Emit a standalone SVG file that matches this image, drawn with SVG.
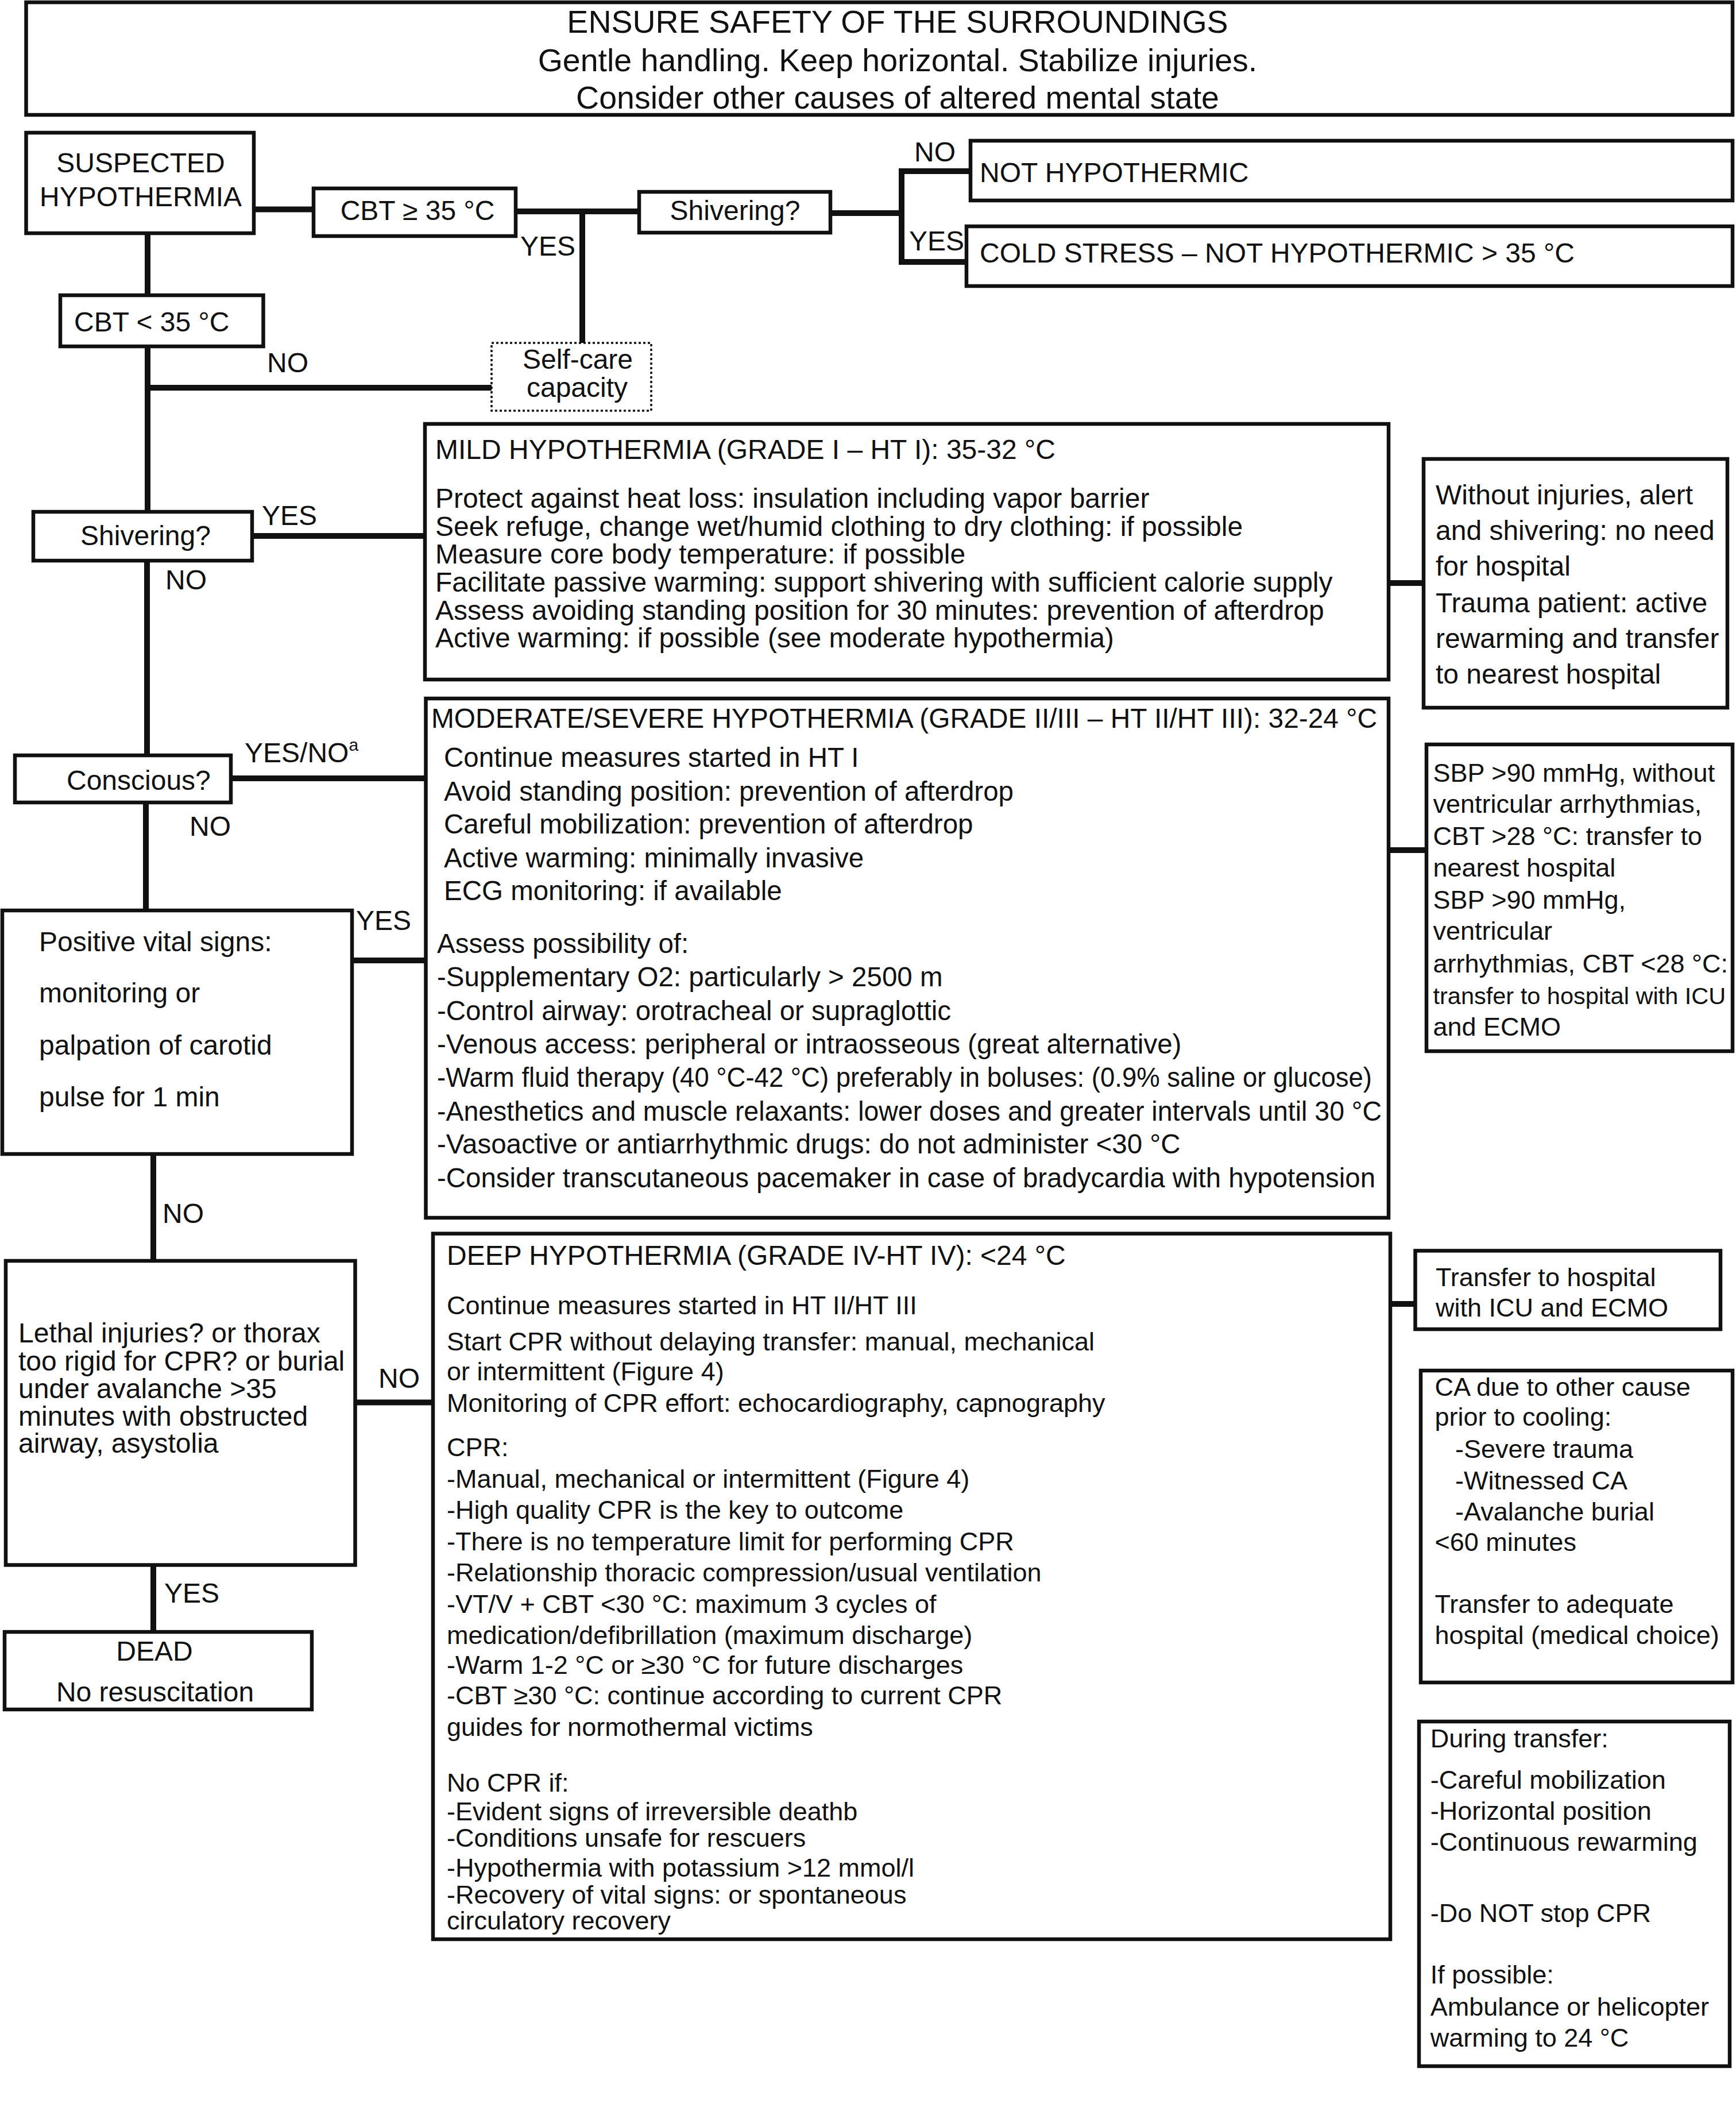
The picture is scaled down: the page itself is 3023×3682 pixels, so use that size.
<svg xmlns="http://www.w3.org/2000/svg" width="3023" height="3682" viewBox="0 0 3023 3682">
<style>
.box{fill:#fff;stroke:#111;stroke-width:6.5}
.dotted{fill:#fff;stroke:#111;stroke-width:3.5;stroke-dasharray:4 4}
.c{stroke:#111;stroke-width:10;fill:none;stroke-linecap:square}
text{font-family:"Liberation Sans",Arial,Helvetica,sans-serif;fill:#111}
.h{font-size:55.5px;text-anchor:middle}
.f48{font-size:48px}
.f475{font-size:47.5px}
.f45{font-size:45px}
.m{text-anchor:middle}
</style>
<rect width="3023" height="3682" fill="#fff"/>
<g id="connectors">
<line class="c" x1="442" y1="364.5" x2="546" y2="364.5"/>
<line class="c" x1="898" y1="368" x2="1113" y2="368"/>
<line class="c" x1="1014" y1="368" x2="1014" y2="597"/>
<line class="c" x1="1446" y1="371" x2="1570" y2="371"/>
<line class="c" x1="1570" y1="298" x2="1570" y2="456"/>
<line class="c" x1="1570" y1="298" x2="1690" y2="298"/>
<line class="c" x1="1570" y1="456" x2="1683" y2="456"/>
<line class="c" x1="257" y1="406" x2="257" y2="514"/>
<line class="c" x1="257" y1="603" x2="257" y2="891"/>
<line class="c" x1="257" y1="675" x2="856" y2="675"/>
<line class="c" x1="439" y1="933" x2="740" y2="933"/>
<line class="c" x1="256" y1="976" x2="256" y2="1315"/>
<line class="c" x1="402" y1="1355" x2="741" y2="1355"/>
<line class="c" x1="254" y1="1397" x2="254" y2="1585"/>
<line class="c" x1="613" y1="1672" x2="741" y2="1672"/>
<line class="c" x1="267" y1="2009" x2="267" y2="2195"/>
<line class="c" x1="618" y1="2441.5" x2="754" y2="2441.5"/>
<line class="c" x1="267" y1="2724" x2="267" y2="2841"/>
<line class="c" x1="2418" y1="1015" x2="2479" y2="1015"/>
<line class="c" x1="2418" y1="1480" x2="2484" y2="1480"/>
<line class="c" x1="2421" y1="2270" x2="2464" y2="2270"/>
<text class="f48" x="906" y="445">YES</text>
<text class="f48" x="1592" y="281">NO</text>
<text class="f48" x="1583" y="436">YES</text>
<text class="f48" x="465" y="648">NO</text>
<text class="f48" x="456" y="914">YES</text>
<text class="f48" x="288" y="1026">NO</text>
<text class="f48" x="426" y="1327">YES/NO<tspan font-size="30" dy="-20">a</tspan></text>
<text class="f48" x="330" y="1455">NO</text>
<text class="f48" x="620" y="1619">YES</text>
<text class="f48" x="283" y="2129">NO</text>
<text class="f48" x="659" y="2416">NO</text>
<text class="f48" x="286" y="2790">YES</text>
</g>
<g id="header">
<rect class="box" x="45.5" y="4" width="2971.5" height="196"/>
<text class="h" x="1563" y="57">ENSURE SAFETY OF THE SURROUNDINGS</text>
<text class="h" x="1563" y="124">Gentle handling. Keep horizontal. Stabilize injuries.</text>
<text class="h" x="1563" y="189">Consider other causes of altered mental state</text>
</g>
<g id="suspected">
<rect class="box" x="45.5" y="231" width="396.5" height="175"/>
<text class="f48 m" x="245" y="300">SUSPECTED</text>
<text class="f48 m" x="245" y="359">HYPOTHERMIA</text>
</g>
<g id="cbt-ge35">
<rect class="box" x="546" y="328" width="352" height="83"/>
<text class="f48 m" x="727" y="383">CBT ≥ 35 °C</text>
</g>
<g id="shivering-top">
<rect class="box" x="1113" y="334" width="333" height="71"/>
<text class="f48 m" x="1280" y="383">Shivering?</text>
</g>
<g id="not-hypothermic">
<rect class="box" x="1690" y="245" width="1327" height="104"/>
<text class="f48" x="1706" y="317">NOT HYPOTHERMIC</text>
</g>
<g id="cold-stress">
<rect class="box" x="1683" y="394" width="1334" height="104"/>
<text class="f48" x="1706" y="457">COLD STRESS – NOT HYPOTHERMIC &gt; 35 °C</text>
</g>
<g id="cbt-lt35">
<rect class="box" x="105" y="514" width="353.5" height="89"/>
<text class="f48" x="129" y="577">CBT &lt; 35 °C</text>
</g>
<g id="self-care">
<rect class="dotted" x="856" y="597" width="278" height="118"/>
<text class="f48 m" x="1006" y="642">Self-care</text>
<text class="f48 m" x="1005" y="691">capacity</text>
</g>
<g id="shivering-left">
<rect class="box" x="58" y="891" width="381" height="85"/>
<text class="f48 m" x="253.5" y="949">Shivering?</text>
</g>
<g id="mild">
<rect class="box" x="740" y="738" width="1678" height="445"/>
<text class="f48" x="758" y="799">MILD HYPOTHERMIA (GRADE I – HT I): 35-32 °C</text>
<text class="f48" x="758" y="884">Protect against heat loss: insulation including vapor barrier</text>
<text class="f48" x="758" y="933">Seek refuge, change wet/humid clothing to dry clothing: if possible</text>
<text class="f48" x="758" y="981">Measure core body temperature: if possible</text>
<text class="f48" x="758" y="1030">Facilitate passive warming: support shivering with sufficient calorie supply</text>
<text class="f48" x="758" y="1079">Assess avoiding standing position for 30 minutes: prevention of afterdrop</text>
<text class="f48" x="758" y="1127">Active warming: if possible (see moderate hypothermia)</text>
</g>
<g id="mild-side">
<rect class="box" x="2479" y="799" width="529" height="433"/>
<text class="f48" x="2500" y="878">Without injuries, alert</text>
<text class="f48" x="2500" y="940">and shivering: no need</text>
<text class="f48" x="2500" y="1002">for hospital</text>
<text class="f48" x="2500" y="1065.5">Trauma patient: active</text>
<text class="f48" x="2500" y="1128">rewarming and transfer</text>
<text class="f48" x="2500" y="1190">to nearest hospital</text>
</g>
<g id="moderate">
<rect class="box" x="741.5" y="1216" width="1676.5" height="904"/>
<text class="f475" x="751" y="1267" textLength="1647" lengthAdjust="spacingAndGlyphs">MODERATE/SEVERE HYPOTHERMIA (GRADE II/III – HT II/HT III): 32-24 °C</text>
<text class="f475" x="773" y="1335">Continue measures started in HT I</text>
<text class="f475" x="773" y="1393.5">Avoid standing position: prevention of afterdrop</text>
<text class="f475" x="773" y="1451">Careful mobilization: prevention of afterdrop</text>
<text class="f475" x="773" y="1510">Active warming: minimally invasive</text>
<text class="f475" x="773" y="1567">ECG monitoring: if available</text>
<text class="f475" x="761" y="1659">Assess possibility of:</text>
<text class="f475" x="761" y="1717">-Supplementary O2: particularly &gt; 2500 m</text>
<text class="f475" x="761" y="1776">-Control airway: orotracheal or supraglottic</text>
<text class="f475" x="761" y="1834">-Venous access: peripheral or intraosseous (great alternative)</text>
<text class="f475" x="761" y="1892" textLength="1628" lengthAdjust="spacingAndGlyphs">-Warm fluid therapy (40 °C-42 °C) preferably in boluses: (0.9% saline or glucose)</text>
<text class="f475" x="761" y="1951" textLength="1645" lengthAdjust="spacingAndGlyphs">-Anesthetics and muscle relaxants: lower doses and greater intervals until 30 °C</text>
<text class="f475" x="761" y="2008">-Vasoactive or antiarrhythmic drugs: do not administer &lt;30 °C</text>
<text class="f475" x="761" y="2067" textLength="1634" lengthAdjust="spacingAndGlyphs">-Consider transcutaneous pacemaker in case of bradycardia with hypotension</text>
</g>
<g id="conscious">
<rect class="box" x="26" y="1315" width="376" height="82"/>
<text class="f48" x="116" y="1375">Conscious?</text>
</g>
<g id="vital-signs">
<rect class="box" x="4" y="1585" width="609" height="424"/>
<text class="f48" x="68" y="1656">Positive vital signs:</text>
<text class="f48" x="68" y="1745">monitoring or</text>
<text class="f48" x="68" y="1836">palpation of carotid</text>
<text class="f48" x="68" y="1926">pulse for 1 min</text>
</g>
<g id="moderate-side">
<rect class="box" x="2484" y="1296" width="533" height="534"/>
<text class="f45" x="2495.5" y="1361">SBP &gt;90 mmHg, without</text>
<text class="f45" x="2495.5" y="1415">ventricular arrhythmias,</text>
<text class="f45" x="2495.5" y="1471">CBT &gt;28 °C: transfer to</text>
<text class="f45" x="2495.5" y="1526">nearest hospital</text>
<text class="f45" x="2495.5" y="1582">SBP &gt;90 mmHg,</text>
<text class="f45" x="2495.5" y="1636">ventricular</text>
<text class="f45" x="2495.5" y="1692.5">arrhythmias, CBT &lt;28 °C:</text>
<text x="2495.5" y="1748" font-size="41.5">transfer to hospital with ICU</text>
<text class="f45" x="2495.5" y="1803">and ECMO</text>
</g>
<g id="lethal">
<rect class="box" x="10" y="2195" width="608.5" height="529.5"/>
<text class="f48" x="32" y="2337">Lethal injuries? or thorax</text>
<text class="f48" x="32" y="2386">too rigid for CPR? or burial</text>
<text class="f48" x="32" y="2433.5">under avalanche &gt;35</text>
<text class="f48" x="32" y="2482">minutes with obstructed</text>
<text class="f48" x="32" y="2529">airway, asystolia</text>
</g>
<g id="dead">
<rect class="box" x="8" y="2841" width="535" height="135"/>
<text class="f48 m" x="269" y="2891">DEAD</text>
<text class="f48 m" x="270" y="2962">No resuscitation</text>
</g>
<g id="deep">
<rect class="box" x="754" y="2147.6" width="1667" height="1228.4"/>
<text class="f48" x="778" y="2202">DEEP HYPOTHERMIA (GRADE IV-HT IV): &lt;24 °C</text>
<text class="f45" x="778" y="2288">Continue measures started in HT II/HT III</text>
<text class="f45" x="778" y="2351">Start CPR without delaying transfer: manual, mechanical</text>
<text class="f45" x="778" y="2403">or intermittent (Figure 4)</text>
<text class="f45" x="778" y="2457.6">Monitoring of CPR effort: echocardiography, capnography</text>
<text class="f45" x="778" y="2535">CPR:</text>
<text class="f45" x="778" y="2589.6">-Manual, mechanical or intermittent (Figure 4)</text>
<text class="f45" x="778" y="2644">-High quality CPR is the key to outcome</text>
<text class="f45" x="778" y="2699">-There is no temperature limit for performing CPR</text>
<text class="f45" x="778" y="2753">-Relationship thoracic compression/usual ventilation</text>
<text class="f45" x="778" y="2808">-VT/V + CBT &lt;30 °C: maximum 3 cycles of</text>
<text class="f45" x="778" y="2862">medication/defibrillation (maximum discharge)</text>
<text class="f45" x="778" y="2914">-Warm 1-2 °C or ≥30 °C for future discharges</text>
<text class="f45" x="778" y="2967">-CBT ≥30 °C: continue according to current CPR</text>
<text class="f45" x="778" y="3022">guides for normothermal victims</text>
<text class="f45" x="778" y="3119">No CPR if:</text>
<text class="f45" x="778" y="3169">-Evident signs of irreversible deathb</text>
<text class="f45" x="778" y="3215">-Conditions unsafe for rescuers</text>
<text class="f45" x="778" y="3266.6">-Hypothermia with potassium &gt;12 mmol/l</text>
<text class="f45" x="778" y="3314">-Recovery of vital signs: or spontaneous</text>
<text class="f45" x="778" y="3359">circulatory recovery</text>
</g>
<g id="transfer-icu">
<rect class="box" x="2464.5" y="2177.4" width="531.5" height="136.6"/>
<text class="f45" x="2500" y="2239.4">Transfer to hospital</text>
<text class="f45" x="2500" y="2292">with ICU and ECMO</text>
</g>
<g id="ca-other-cause">
<rect class="box" x="2474" y="2386" width="543" height="543"/>
<text class="f45" x="2498.5" y="2430">CA due to other cause</text>
<text class="f45" x="2498.5" y="2481.7">prior to cooling:</text>
<text class="f45" x="2534" y="2538">-Severe trauma</text>
<text class="f45" x="2534" y="2592.5">-Witnessed CA</text>
<text class="f45" x="2534" y="2647">-Avalanche burial</text>
<text class="f45" x="2498.5" y="2700">&lt;60 minutes</text>
<text class="f45" x="2498.5" y="2807.7">Transfer to adequate</text>
<text class="f45" x="2498.5" y="2862">hospital (medical choice)</text>
</g>
<g id="during-transfer">
<rect class="box" x="2471" y="2997" width="541" height="600"/>
<text class="f45" x="2490.7" y="3042">During transfer:</text>
<text class="f45" x="2490.7" y="3113.5">-Careful mobilization</text>
<text class="f45" x="2490.7" y="3168">-Horizontal position</text>
<text class="f45" x="2490.7" y="3221.7">-Continuous rewarming</text>
<text class="f45" x="2490.7" y="3346">-Do NOT stop CPR</text>
<text class="f45" x="2490.7" y="3452.6">If possible:</text>
<text class="f45" x="2490.7" y="3508.5">Ambulance or helicopter</text>
<text class="f45" x="2490.7" y="3563">warming to 24 °C</text>
</g>
</svg>
